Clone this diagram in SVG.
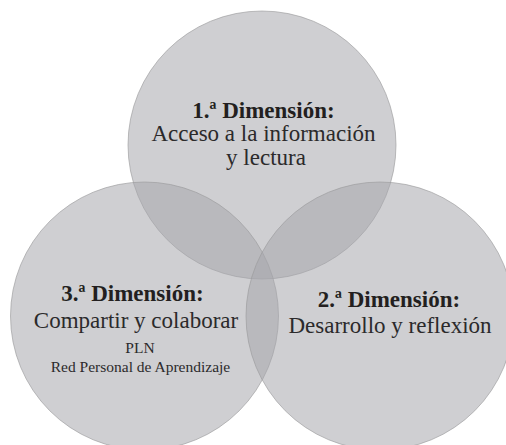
<svg xmlns="http://www.w3.org/2000/svg" width="506" height="445" viewBox="0 0 506 445">
  <style>
    .c { fill: #a6a7ab; fill-opacity: 0.54; stroke: #9a9a9c; stroke-width: 0.8; stroke-opacity: 0.8; }
    .lbl { fill: #2b2a2b; text-anchor: middle; }
    .h { font-size: 23px; font-weight: bold; fill: #231f20; }
    .t { font-size: 23px; }
    .s { font-size: 15.5px; }
  </style>
  <rect width="506" height="445" fill="#ffffff"/>
  <g id="dim1">
    <circle class="c" cx="262" cy="145" r="134"/>
  </g>
  <g id="dim3">
    <circle class="c" cx="144.5" cy="316" r="134"/>
  </g>
  <g id="dim2">
    <circle class="c" cx="380" cy="316" r="134"/>
  </g>
  <g id="connectors"></g>
  <g id="labels" class="lbl" font-family="'Liberation Serif', 'DejaVu Serif', serif">
    <g id="dim1-label">
      <text class="h" x="263.5" y="118">1.ª Dimensión:</text>
      <text class="t" x="263.5" y="141">Acceso a la información</text>
      <text class="t" x="266" y="165">y lectura</text>
    </g>
    <g id="dim3-label">
      <text class="h" x="132.5" y="301">3.ª Dimensión:</text>
      <text class="t" x="136" y="328">Compartir y colaborar</text>
      <text class="s" x="140" y="353">PLN</text>
      <text class="s" x="140.5" y="372">Red Personal de Aprendizaje</text>
    </g>
    <g id="dim2-label">
      <text class="h" x="389" y="307">2.ª Dimensión:</text>
      <text class="t" x="390" y="333">Desarrollo y reflexión</text>
    </g>
  </g>
</svg>
